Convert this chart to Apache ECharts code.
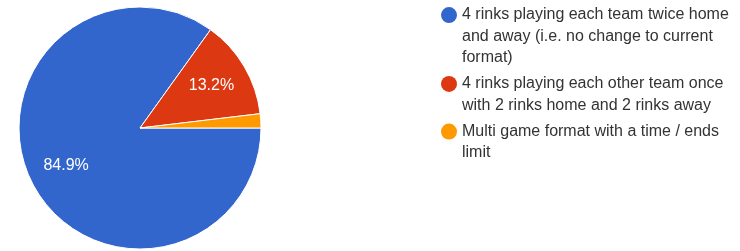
<!DOCTYPE html>
<html>
<head>
<meta charset="utf-8">
<script src="https://cdn.jsdelivr.net/npm/echarts@6/dist/echarts.min.js"></script>
<style>
  html, body { margin: 0; padding: 0; background: #fff; }
  #chart { width: 740px; height: 251px; }
</style>
</head>
<body>
<div id="chart"></div>
<script>
/* 数据 */
const categories = [
    '4 rinks playing each team twice home and away (i.e. no change to current format)',
    '4 rinks playing each other team once with 2 rinks home and 2 rinks away',
    'Multi game format with a time / ends limit'
];
const counts = [45, 7, 1];
const colors = ['#3366cc', '#dc3912', '#ff9900'];
const legendLineCount = [3, 2, 2]; // 图例文字换行后的行数

const FONT = '"Liberation Sans", Arial, sans-serif';
const LINE_H = 21.3;

let pieData = categories.map((name, i) => ({ name: name, value: counts[i] }));

var chart = echarts.init(document.getElementById('chart'));
option = {
    animation: false,
    color: colors,
    legend: {
        orient: 'vertical',
        left: 441,
        // 前面补空行, 让圆点对齐第一行文字
        top: 4.4 - LINE_H * 2,
        padding: 0,
        itemWidth: 16,
        itemHeight: 16,
        itemGap: 5 - LINE_H,
        icon: 'circle',
        itemStyle: { borderWidth: 0 },
        formatter: function (name) {
            let n = legendLineCount[categories.indexOf(name)];
            return '\n'.repeat(n - 1) + name;
        },
        textStyle: {
            fontFamily: FONT,
            fontSize: 16,
            color: '#333',
            lineHeight: LINE_H,
            width: 282,
            overflow: 'break'
        },
        data: categories
    },
    series: [
        {
            type: 'pie',
            center: [140, 128],
            radius: [0, 121],
            startAngle: 0,
            clockwise: true,
            label: { show: false },
            labelLine: { show: false },
            itemStyle: { borderColor: '#fff', borderWidth: 1 },
            emphasis: { disabled: true },
            data: pieData
        },
        {
            // 只用来放百分比标签 (约 2/3 半径处)
            type: 'pie',
            center: [140, 128],
            radius: [0, 160],
            startAngle: 0,
            clockwise: true,
            silent: true,
            percentPrecision: 1,
            minShowLabelAngle: 10,
            itemStyle: { color: 'rgba(0,0,0,0)' },
            label: {
                show: true,
                position: 'inner',
                formatter: '{d}%',
                fontFamily: FONT,
                fontSize: 16,
                color: '#fff'
            },
            labelLine: { show: false },
            emphasis: { disabled: true },
            data: pieData
        }
    ]
};
chart.setOption(option);
</script>
</body>
</html>
